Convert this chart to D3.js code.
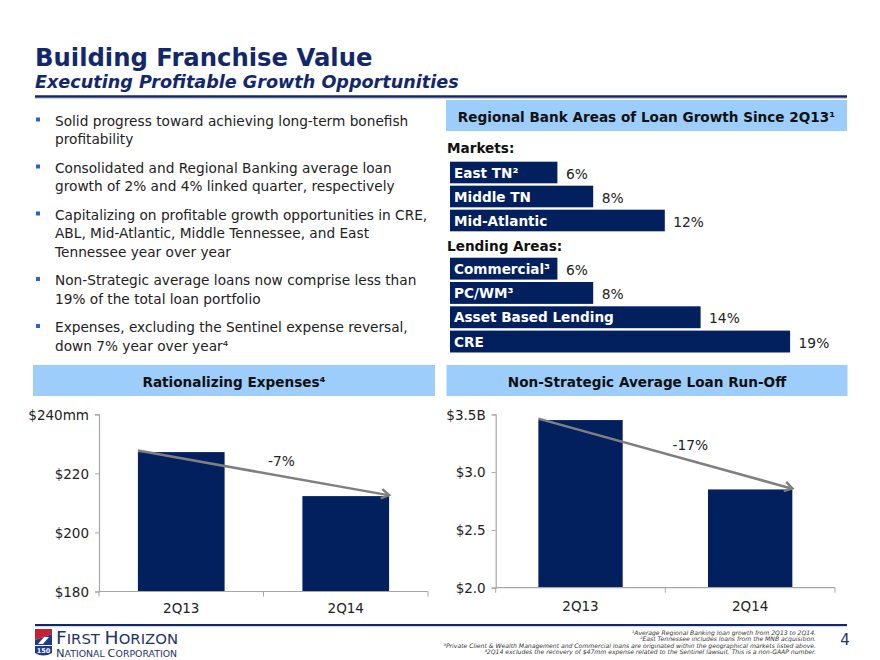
<!DOCTYPE html>
<html>
<head>
<meta charset="utf-8">
<script src="https://cdn.jsdelivr.net/npm/d3@7"></script>
<style>
  html, body { margin: 0; padding: 0; background: #fff; }
  svg { display: block; }
  text { font-family: "DejaVu Sans", Verdana, sans-serif; }
</style>
</head>
<body>
<svg id="chart" width="880" height="660"></svg>
<script>
// ---------------- DATA ----------------
const titleText = "Building Franchise Value";
const subtitleText = "Executing Profitable Growth Opportunities";

const bullets = [
  ["Solid progress toward achieving long-term bonefish", "profitability"],
  ["Consolidated and Regional Banking average loan", "growth of 2% and 4% linked quarter, respectively"],
  ["Capitalizing on profitable growth opportunities in CRE,", "ABL, Mid-Atlantic, Middle Tennessee, and East", "Tennessee year over year"],
  ["Non-Strategic average loans now comprise less than", "19% of the total loan portfolio"],
  ["Expenses, excluding the Sentinel expense reversal,", "down 7% year over year\u2074"]
];

const growthTitle = "Regional Bank Areas of Loan Growth Since 2Q13\u00B9";
const marketsLabel = "Markets:";
const marketCats = ["East TN\u00B2", "Middle TN", "Mid-Atlantic"];
const marketVals = [6, 8, 12];
const lendingLabel = "Lending Areas:";
const lendingCats = ["Commercial\u00B3", "PC/WM\u00B3", "Asset Based Lending", "CRE"];
const lendingVals = [6, 8, 14, 19];

const expenseTitle = "Rationalizing Expenses\u2074";
const expenseCats = ["2Q13", "2Q14"];
const expenseVals = [227.2, 212.3];
const expenseTicks = [180, 200, 220, 240];
const expenseTickLabels = ["$180", "$200", "$220", "$240mm"];
const expenseChange = "-7%";

const loanTitle = "Non-Strategic Average Loan Run-Off";
const loanCats = ["2Q13", "2Q14"];
const loanVals = [3.45, 2.85];
const loanTicks = [2.0, 2.5, 3.0, 3.5];
const loanTickLabels = ["$2.0", "$2.5", "$3.0", "$3.5B"];
const loanChange = "-17%";

const footnotes = [
  "\u00B9Average Regional Banking loan growth from 2Q13 to 2Q14.",
  "\u00B2East Tennessee includes loans from the MNB acquisition.",
  "\u00B3Private Client & Wealth Management and Commercial loans are originated within the geographical markets listed above.",
  "\u20742Q14 excludes the recovery of $47mm expense related to the Sentinel lawsuit. This is a non-GAAP number."
];
const pageNumber = "4";

// ---------------- STYLE ----------------
const NAVY = "#13286b";
const BAR = "#021f5e";
const HEAD_BG = "#9dcdfb";
const TXT = "#222222";
const GREY = "#7f7f7f";
const AXIS = "#a6a6a6";

const svg = d3.select("#chart");

// ---------------- TITLE ----------------
svg.append("text").attr("x", 35).attr("y", 65.5)
  .attr("font-size", 24.3).attr("font-weight", "bold").attr("fill", NAVY)
  .text(titleText);
svg.append("text").attr("x", 35).attr("y", 87.5)
  .attr("font-size", 17.6).attr("font-weight", "bold").attr("font-style", "italic").attr("fill", NAVY)
  .text(subtitleText);
svg.append("line").attr("x1", 35).attr("x2", 847).attr("y1", 96.5).attr("y2", 96.5)
  .attr("stroke", NAVY).attr("stroke-width", 2.5);
svg.append("line").attr("x1", 35).attr("x2", 847).attr("y1", 98.5).attr("y2", 98.5)
  .attr("stroke", "#c9d3ea").attr("stroke-width", 1);

// ---------------- BULLETS ----------------
{
  let y = 125.5;
  const lh = 18.5, gap = 10;
  const g = svg.append("g");
  bullets.forEach(lines => {
    g.append("rect").attr("x", 36).attr("y", y - 8).attr("width", 4).attr("height", 4).attr("fill", "#2f5fd0");
    lines.forEach((ln, i) => {
      g.append("text").attr("x", 55).attr("y", y + i * lh)
        .attr("font-size", 13.7).attr("fill", TXT).text(ln);
    });
    y += lines.length * lh + gap;
  });
}

// ---------------- SECTION HEADERS ----------------
function header(x, y, w, h, label) {
  svg.append("rect").attr("x", x).attr("y", y).attr("width", w).attr("height", h).attr("fill", HEAD_BG);
  svg.append("text").attr("x", x + w / 2).attr("y", y + 21.5).attr("text-anchor", "middle")
    .attr("font-size", 13.6).attr("font-weight", "bold").attr("fill", "#111").text(label);
}
header(446, 100, 401, 31, growthTitle);
header(33, 365, 402, 31, expenseTitle);
header(446.5, 365, 401, 31, loanTitle);

// ---------------- HORIZONTAL BARS ----------------
const xH = d3.scaleLinear().domain([0, 20]).range([450, 808]);

svg.append("text").attr("x", 447).attr("y", 153).attr("font-size", 13.6)
  .attr("font-weight", "bold").attr("fill", "#111").text(marketsLabel);
svg.append("text").attr("x", 447).attr("y", 251).attr("font-size", 13.6)
  .attr("font-weight", "bold").attr("fill", "#111").text(lendingLabel);

function hbars(cats, vals, y0, step) {
  const yB = d3.scaleBand().domain(cats).range([y0, y0 + step * cats.length])
    .paddingInner(0.1).paddingOuter(0.05);
  const g = svg.append("g");
  const data = cats.map((c, i) => ({ c, v: vals[i] }));
  g.selectAll("rect").data(data).join("rect")
    .attr("x", xH(0)).attr("y", d => yB(d.c))
    .attr("width", d => xH(d.v) - xH(0)).attr("height", yB.bandwidth())
    .attr("fill", BAR);
  g.selectAll("text.in").data(data).join("text").attr("class", "in")
    .attr("x", xH(0) + 4).attr("y", d => yB(d.c) + yB.bandwidth() / 2 + 5)
    .attr("font-size", 13.6).attr("font-weight", "bold").attr("fill", "#fff").text(d => d.c);
  g.selectAll("text.val").data(data).join("text").attr("class", "val")
    .attr("x", d => xH(d.v) + 8.5).attr("y", d => yB(d.c) + yB.bandwidth() / 2 + 6)
    .attr("font-size", 13.8).attr("fill", TXT).text(d => d.v + "%");
}
hbars(marketCats, marketVals, 160.5, 24);
hbars(lendingCats, lendingVals, 256.5, 24.3);

// ---------------- VERTICAL BAR CHARTS ----------------
function vchart(opts) {
  const { cats, vals, ticks, tickLabels, change, x0, x1, yTop, yBot, domain, pad, labelY, changeDx, changeDy } = opts;
  const x = d3.scaleBand().domain(cats).range([x0, x1]).paddingInner(pad).paddingOuter(pad / 2);
  const y = d3.scaleLinear().domain(domain).range([yBot, yTop]);
  const g = svg.append("g");

  g.selectAll("rect").data(cats.map((c, i) => ({ c, v: vals[i] }))).join("rect")
    .attr("x", d => x(d.c)).attr("y", d => y(d.v))
    .attr("width", x.bandwidth()).attr("height", d => y(domain[0]) - y(d.v))
    .attr("fill", BAR);

  const yAxis = d3.axisLeft(y).tickValues(ticks).tickSize(4).tickPadding(6)
    .tickFormat((d, i) => tickLabels[i]);
  const ga = g.append("g").attr("transform", `translate(${x0},0)`).call(yAxis);
  ga.select(".domain").attr("stroke", AXIS).attr("stroke-width", 1.2);
  ga.selectAll(".tick line").attr("stroke", AXIS);
  ga.selectAll(".tick text").attr("font-size", 13.5).attr("fill", TXT)
    .attr("font-family", "DejaVu Sans, Verdana, sans-serif").attr("dy", "0.36em");

  g.append("line").attr("x1", x0).attr("x2", x1).attr("y1", yBot).attr("y2", yBot)
    .attr("stroke", AXIS).attr("stroke-width", 1.2);
  const bounds = d3.range(cats.length + 1).map(k => x0 + k * x.step());
  g.selectAll("line.bt").data(bounds).join("line").attr("class", "bt")
    .attr("x1", d => d).attr("x2", d => d).attr("y1", yBot).attr("y2", yBot + 5)
    .attr("stroke", AXIS);
  g.selectAll("text.cat").data(cats).join("text").attr("class", "cat")
    .attr("x", d => x(d) + x.bandwidth() / 2).attr("y", labelY)
    .attr("text-anchor", "middle").attr("font-size", 13.5).attr("fill", TXT).text(d => d);

  const ax1 = x(cats[0]), ay1 = y(vals[0]) - 1.5;
  const ax2 = x(cats[cats.length - 1]) + x.bandwidth(), ay2 = y(vals[vals.length - 1]) - 1;
  g.append("line").attr("x1", ax1).attr("y1", ay1).attr("x2", ax2 - 1).attr("y2", ay2)
    .attr("stroke", GREY).attr("stroke-width", 2.5);
  const ang = Math.atan2(ay2 - ay1, ax2 - ax1);
  const L = 9, spread = 0.55;
  const p1 = [ax2 - L * Math.cos(ang - spread), ay2 - L * Math.sin(ang - spread)];
  const p2 = [ax2 - L * Math.cos(ang + spread), ay2 - L * Math.sin(ang + spread)];
  g.append("path").attr("d", `M${p1[0]},${p1[1]} L${ax2},${ay2} L${p2[0]},${p2[1]}`)
    .attr("fill", "none").attr("stroke", GREY).attr("stroke-width", 2.5)
    .attr("stroke-linejoin", "miter");
  g.append("text").attr("x", (ax1 + ax2) / 2 + changeDx).attr("y", (ay1 + ay2) / 2 + changeDy)
    .attr("text-anchor", "middle").attr("font-size", 13.8).attr("fill", TXT).text(change);
}

vchart({ cats: expenseCats, vals: expenseVals, ticks: expenseTicks, tickLabels: expenseTickLabels,
  change: expenseChange, x0: 99, x1: 428, yTop: 414.3, yBot: 591.5, domain: [180, 240], pad: 0.473,
  labelY: 613, changeDx: 18, changeDy: -7 });
vchart({ cats: loanCats, vals: loanVals, ticks: loanTicks, tickLabels: loanTickLabels,
  change: loanChange, x0: 495.7, x1: 835, yTop: 414.3, yBot: 587.7, domain: [2.0, 3.5], pad: 0.503,
  labelY: 611, changeDx: 25, changeDy: -4 });

// ---------------- FOOTER ----------------
svg.append("line").attr("x1", 35).attr("x2", 847).attr("y1", 625).attr("y2", 625)
  .attr("stroke", NAVY).attr("stroke-width", 2);
svg.append("line").attr("x1", 35).attr("x2", 847).attr("y1", 626.7).attr("y2", 626.7)
  .attr("stroke", "#c9d3ea").attr("stroke-width", 1);

svg.selectAll("text.fn").data(footnotes).join("text").attr("class", "fn")
  .attr("x", 816).attr("y", (d, i) => 634.5 + i * 6.6).attr("text-anchor", "end")
  .attr("font-family", "Liberation Sans, Arial, sans-serif").attr("font-style", "italic")
  .attr("font-size", 6.1).attr("fill", "#333").text(d => d);

svg.append("text").attr("x", 845).attr("y", 645).attr("text-anchor", "middle")
  .attr("font-size", 15).attr("fill", "#1f3468").text(pageNumber);

// logo
{
  const g = svg.append("g");
  g.append("path").attr("d", "M35,629 L52,629 L52,634 L35,640 Z").attr("fill", "#c8202f");
  g.append("path").attr("d", "M35,640 L52,634 L52,645 L35,645 Z").attr("fill", "#1f3a8a");
  g.append("path").attr("d", "M38,644 L44,637 L49,637 L43,644 Z").attr("fill", "#fff");
  g.append("path").attr("d", "M35,646 L52,646 L52,653 Q43.5,658 35,653 Z").attr("fill", "#1f3a8a");
  g.append("text").attr("x", 43.5).attr("y", 653).attr("text-anchor", "middle")
    .attr("font-size", 6.5).attr("font-weight", "bold").attr("fill", "#fff").text("150");
  const serif = "Liberation Serif, 'DejaVu Serif', serif";
  const t1 = g.append("text").attr("x", 56).attr("y", 643.5).attr("font-family", serif)
    .attr("fill", "#1f3468").attr("textLength", 122).attr("lengthAdjust", "spacingAndGlyphs");
  t1.append("tspan").attr("font-size", 17).text("F");
  t1.append("tspan").attr("font-size", 13.5).text("IRST ");
  t1.append("tspan").attr("font-size", 17).text("H");
  t1.append("tspan").attr("font-size", 13.5).text("ORIZON");
  const t2 = g.append("text").attr("x", 56).attr("y", 656.5).attr("font-family", serif)
    .attr("fill", "#1f3468").attr("textLength", 121).attr("lengthAdjust", "spacingAndGlyphs");
  t2.append("tspan").attr("font-size", 10).text("N");
  t2.append("tspan").attr("font-size", 8.2).text("ATIONAL ");
  t2.append("tspan").attr("font-size", 10).text("C");
  t2.append("tspan").attr("font-size", 8.2).text("ORPORATION");
}
</script>
</body>
</html>
